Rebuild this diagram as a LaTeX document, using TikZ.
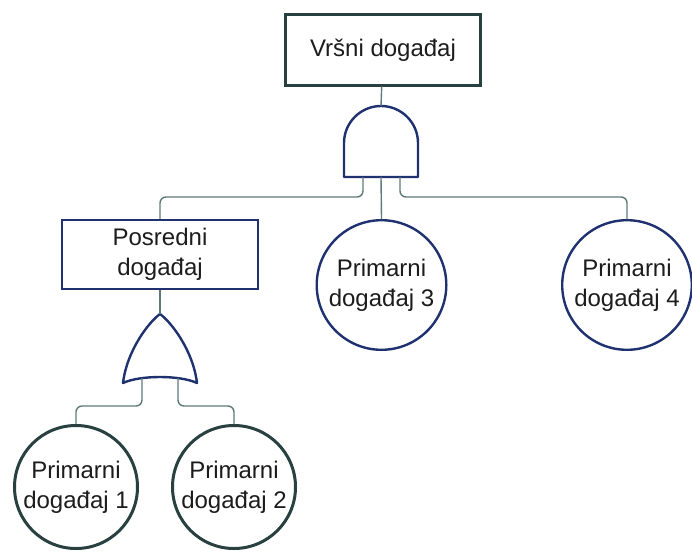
\documentclass[tikz,border=0pt]{standalone}
\usepackage{fontspec}
\setmainfont{Liberation Sans}
\definecolor{navy}{RGB}{31,49,110}
\definecolor{slate}{RGB}{40,64,64}
\definecolor{wire}{RGB}{95,122,122}
\definecolor{ink}{RGB}{28,28,28}
\begin{document}
\begin{tikzpicture}[x=1pt,y=-1pt,
    every node/.style={font=\fontsize{24}{30}\selectfont,text=ink,align=center},
    event/.style={draw,rectangle,minimum width=195pt,minimum height=70pt},
    basic/.style={draw,circle,inner sep=0pt},
    gate/.style={draw=navy,line width=2.4pt,line join=round},
    link/.style={draw=wire,line width=1.4pt,rounded corners=6pt}]
  \useasboundingbox (0,0) rectangle (692,551);

  \node [event,draw=slate,line width=3pt] (t) at (383,50) {Vršni događaj};
  \node [event,draw=navy,line width=2pt,minimum width=196pt,minimum height=69pt] (m) at (160,254.5) {Posredni\\događaj};
  \node [basic,draw=navy,line width=2.4pt,minimum size=129.6pt] (3) at (381.5,285) {Primarni\\događaj 3};
  \node [basic,draw=navy,line width=2.4pt,minimum size=129.6pt] (4) at (627,285) {Primarni\\događaj 4};
  \node [basic,draw=slate,line width=3pt,minimum size=123pt] (1) at (76,487) {Primarni\\događaj 1};
  \node [basic,draw=slate,line width=3pt,minimum size=123pt] (2) at (234,487) {Primarni\\događaj 2};

  % AND gate
  \draw[gate] (344,177) -- (344,143) .. controls (344,122.6) and (360.6,106) .. (381,106)
    .. controls (401.4,106) and (418,122.6) .. (418,143) -- (418,177) -- cycle;
  \coordinate (and) at (381,106);
  \coordinate (and-1) at (363,177);
  \coordinate (and-2) at (381,177);
  \coordinate (and-3) at (400,177);
  \coordinate (bus-a) at (0,197);

  % OR gate
  \draw[gate] (160,314) .. controls (149,322) and (127,350) .. (123,383)
    .. controls (140,375) and (180,375) .. (197,383)
    .. controls (193,350) and (171,322) .. (160,314) -- cycle;
  \coordinate (or) at (160,314);
  \coordinate (or-1) at (142,378);
  \coordinate (or-2) at (178,378);
  \coordinate (bus-o) at (0,406);

  \draw[link] (t) -- (and);
  \draw[link] (and-1) -- (and-1 |- bus-a) -| (m.north);
  \draw[link] (and-2) -- (3.north);
  \draw[link] (and-3) -- (and-3 |- bus-a) -| (4.north);
  \draw[link] (m) -- (or);
  \draw[link] (or-1) -- (or-1 |- bus-o) -| (1.north);
  \draw[link] (or-2) -- (or-2 |- bus-o) -| (2.north);
\end{tikzpicture}
\end{document}
